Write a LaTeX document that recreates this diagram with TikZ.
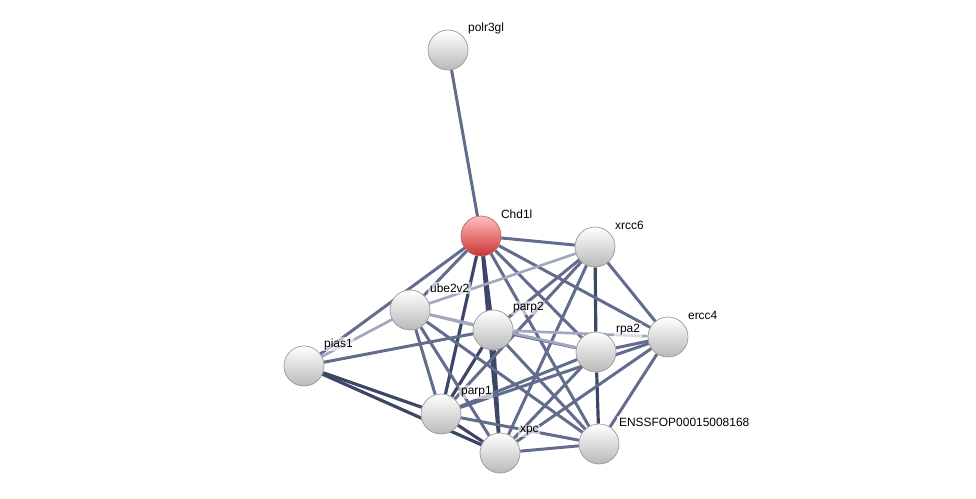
\documentclass[tikz,border=0pt]{standalone}
\usepackage{fontspec}
\setmainfont{Liberation Sans}
\usetikzlibrary{backgrounds}
\definecolor{edgedark}{RGB}{60,70,102}
\definecolor{edgemid}{RGB}{98,108,140}
\definecolor{edgelight}{RGB}{160,167,190}
\begin{document}
\begin{tikzpicture}[x=0.02cm,y=-0.02cm,font=\fontsize{6.8}{8}\selectfont,
  prot/.style={circle,draw=gray!80,minimum size=.8cm,inner sep=0pt,top color=white,bottom color=gray!55},
  seed/.style={circle,draw=red!30!gray!90,minimum size=.8cm,inner sep=0pt,top color=red!25,bottom color=red!75!black!80},
  lbl/.style={anchor=west,inner sep=1pt,fill=white,fill opacity=.6,text opacity=1},
  dk/.style={draw=edgedark,line width=1.8pt},
  md/.style={draw=edgemid,line width=1.7pt},
  lt/.style={draw=edgelight,line width=1.5pt}]
  \useasboundingbox (0,0) rectangle (976,498);

  \node[seed] (chd) at (481,236) {};
  \node[lbl] (chd-txt) at ([shift={(18,-22)}]chd.center) {Chd1l};
  \foreach \n/\t/\x/\y in {polr/polr3gl/448/50,xrcc/xrcc6/595/247,ube/ube2v2/410/310,
      ptwo/parp2/493/330,ercc/ercc4/668/337,rpa/rpa2/596/352,pias/pias1/304/366,
      pone/parp1/441/414,xpc/xpc/500/453,ens/ENSSFOP00015008168/599/444} {
    \node[prot] (\n) at (\x,\y) {};
    \node[lbl] (\n-txt) at ([shift={(18,-22)}]\n.center) {\t};
  }

  \begin{pgfonlayer}{background}
    % strong links
    \foreach \a/\b in {chd/ptwo,chd/pone,chd/xpc,xrcc/rpa,pias/pone,pias/xpc,
        ptwo/pone,ptwo/xpc,pone/xpc,rpa/ens}
      \draw[dk] (\a) -- (\b);
    % medium links
    \foreach \a/\b in {chd/polr,chd/xrcc,chd/ube,chd/pias,chd/rpa,chd/ercc,chd/ens,
        xrcc/ptwo,xrcc/pone,xrcc/xpc,xrcc/ercc,ube/pone,ube/xpc,ube/ens,pias/ptwo,
        ptwo/rpa,ptwo/ens,pone/rpa,pone/ercc,pone/ens,xpc/rpa,xpc/ercc,xpc/ens,
        rpa/ercc,ercc/ens}
      \draw[md] (\a) -- (\b);
    % weak links
    \foreach \a/\b in {xrcc/ube,ube/pias,ube/ptwo,ube/rpa,ptwo/ercc}
      \draw[lt] (\a) -- (\b);
  \end{pgfonlayer}
\end{tikzpicture}
\end{document}
